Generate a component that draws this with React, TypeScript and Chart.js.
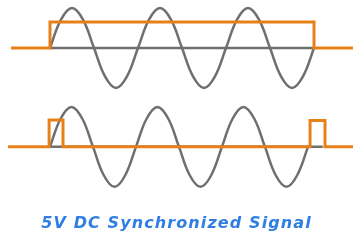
import React, { useEffect, useRef } from "react";
import { Chart, registerables } from "chart.js";

Chart.register(...registerables);

// time in sine periods, voltage in sine amplitudes
const topOffset = 2.475;

const topSineT = [0, 0.125, 0.25, 0.375, 0.5, 0.625, 0.75, 0.875, 1, 1.125, 1.25, 1.375, 1.5, 1.625, 1.75, 1.875, 2, 2.125, 2.25, 2.375, 2.5, 2.625, 2.75, 2.875, 3];
const topSineV = [0, 0.71, 1, 0.71, 0, -0.71, -1, -0.71, 0, 0.71, 1, 0.71, 0, -0.71, -1, -0.71, 0, 0.71, 1, 0.71, 0, -0.71, -1, -0.71, 0];

const botSineT = [0, 0.122, 0.244, 0.366, 0.489, 0.611, 0.733, 0.855, 0.977, 1.099, 1.221, 1.343, 1.466, 1.588, 1.71, 1.832, 1.954, 2.076, 2.198, 2.32, 2.443, 2.565, 2.687, 2.809, 2.932];
const botSineV = [0, 0.71, 1, 0.71, 0, -0.71, -1, -0.71, 0, 0.71, 1, 0.71, 0, -0.71, -1, -0.71, 0, 0.71, 1, 0.71, 0, -0.71, -1, -0.71, 0];

const topSquareT = [-0.443, 0, 0, 3.0, 3.0, 3.443];
const topSquareV = [0, 0, 0.65, 0.65, 0, 0];

const botPulseT = [-0.477, -0.01, -0.01, 0.148, 0.148, 2.955, 2.955, 3.125, 3.125, 3.443];
const botPulseV = [0, 0, 0.675, 0.675, 0, 0, 0.66, 0.66, 0, 0];

const topBaseT = [0, 3.0];
const botBaseT = [0, 3.1];

const title = "5V DC Synchronized Signal";

const ORANGE = "#E8801A";
const GREY = "#6F6F6F";

function pts(t: number[], v: number[], off: number) {
  return t.map((x, i) => ({ x, y: v[i] + off }));
}

const spacingPlugin = {
  id: "titleSpacing",
  beforeDraw(chart: any) {
    chart.ctx.letterSpacing = "1.1px";
  },
  afterDraw(chart: any) {
    chart.ctx.letterSpacing = "0px";
  },
};

export default function App() {
  const ref = useRef<HTMLCanvasElement | null>(null);
  useEffect(() => {
    if (!ref.current) return;
    const orange = (data: any) => ({
      data,
      borderColor: ORANGE,
      borderWidth: 3,
      pointRadius: 0,
      tension: 0,
      borderJoinStyle: "miter" as const,
      borderCapStyle: "butt" as const,
    });
    const grey = (data: any, tension: number) => ({
      data,
      borderColor: GREY,
      borderWidth: 2.5,
      pointRadius: 0,
      tension,
    });
    const chart = new Chart(ref.current, {
      type: "line",
      data: {
        datasets: [
          orange(pts(topSquareT, topSquareV, topOffset)),
          orange(pts(botPulseT, botPulseV, 0)),
          grey(pts(topSineT, topSineV, topOffset), 0.4),
          grey(pts(botSineT, botSineV, 0), 0.4),
          grey(pts(topBaseT, [0, 0], topOffset), 0),
          grey(pts(botBaseT, [0, 0], 0), 0),
        ],
      },
      plugins: [spacingPlugin],
      options: {
        animation: false,
        responsive: false,
        layout: { padding: 0 },
        clip: false as any,
        scales: {
          x: { type: "linear", min: -0.568, max: 3.443, display: false },
          y: { type: "linear", min: -1.425, max: 3.675, display: false },
        },
        plugins: {
          legend: { display: false },
          tooltip: { enabled: false },
          title: {
            display: true,
            text: title,
            position: "bottom",
            color: "#2F7FE3",
            font: { family: "DejaVu Sans", size: 16, weight: "bold", style: "italic", lineHeight: 1.2 },
            padding: { top: 10, bottom: 7 },
          },
        },
      },
    });
    return () => chart.destroy();
  }, []);
  return (
    <div style={{ position: "fixed", left: 0, top: 0, width: 353, height: 240, background: "#fff" }}>
      <canvas ref={ref} width={353} height={240} />
    </div>
  );
}
